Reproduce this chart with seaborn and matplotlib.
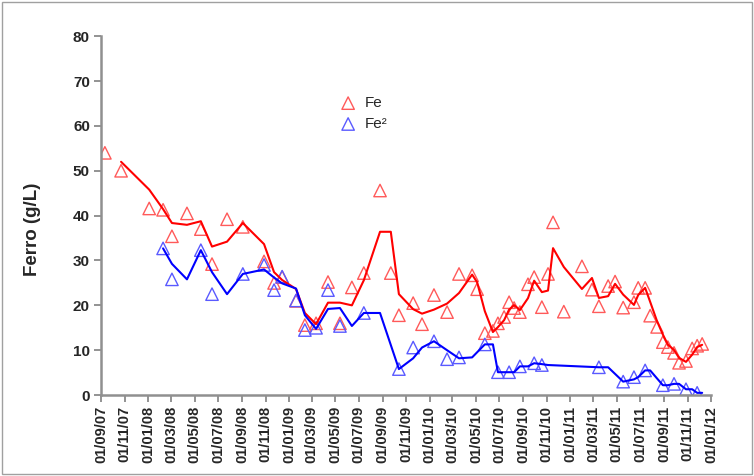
import numpy as np
import pandas as pd
import matplotlib
matplotlib.use("Agg")
import matplotlib.pyplot as plt
import matplotlib.dates as mdates
from matplotlib.patches import Rectangle
import seaborn as sns

# datas das coletas
datas = ['2007-09-11', '2007-10-23', '2008-01-04', '2008-02-09', '2008-03-03', '2008-04-11',
         '2008-05-17', '2008-06-15', '2008-07-24', '2008-09-03', '2008-10-28', '2008-11-23',
         '2008-12-14', '2009-01-19', '2009-02-11', '2009-03-12', '2009-04-12', '2009-05-13',
         '2009-06-13', '2009-07-14', '2009-08-25', '2009-09-22', '2009-10-13', '2009-11-19',
         '2009-12-12', '2010-01-12', '2010-02-15', '2010-03-18', '2010-04-21', '2010-05-04',
         '2010-05-24', '2010-06-14', '2010-06-27', '2010-07-13', '2010-07-26', '2010-08-08',
         '2010-08-23', '2010-09-13', '2010-09-29', '2010-10-19', '2010-11-04', '2010-11-17',
         '2010-12-15', '2011-01-31', '2011-02-26', '2011-03-16', '2011-04-09', '2011-04-27',
         '2011-05-18', '2011-06-15', '2011-06-26', '2011-07-14', '2011-07-27', '2011-08-14',
         '2011-08-29', '2011-09-11', '2011-09-27', '2011-10-10', '2011-10-28', '2011-11-13',
         '2011-11-26', '2011-12-09']

# ferro total (g/L)
fe = [54, 50, 41.6, 41.3, 35.4, 40.5, 37, 29.2, 39.2, 37.5, 29.8, 25,
      26.3, 21, 15.6, 16, 25.2, 16, 24, 27.2, 45.6, 27.2, 17.8, 20.5,
      15.8, 22.3, 18.5, 27, 26.7, 23.6, 13.8, 14.3, 16, 17.4, 20.7, 19.4,
      18.5, 24.7, 26.3, 19.6, 27, 38.5, 18.6, 28.7, 23.5, 19.8, 24.3, 25.3,
      19.5, 20.7, 23.9, 23.9, 17.7, 15.2, 11.8, 10.7, 9.4, 7.2, 7.6, 10.4,
      11, 11.4]

# ferro II (g/L), nan = nao medido
nan = np.nan
fe2 = [nan, nan, nan, 32.7, 25.8, nan, 32.3, 22.5, nan, 27, 29, 23.4,
       26.4, 21.1, 14.5, 15, 23.4, 15.4, nan, 18.3, nan, nan, 5.8, 10.6,
       nan, 12, 8, 8.4, nan, nan, 11.3, nan, 5.1, nan, 5.1, nan,
       6.4, nan, 7.1, 6.7, nan, nan, nan, nan, nan, 6.2, nan, nan,
       3.0, 4, nan, 5.5, nan, nan, 2.2, nan, 2.5, nan, 1.3, nan,
       0.5, nan]

df = pd.DataFrame({'data': pd.to_datetime(datas), 'Fe': fe, 'Fe2': fe2})

# media movel de 2 periodos (linha de tendencia do Excel)
mm = df[['Fe', 'Fe2']].rolling(2, min_periods=1).mean()
mm.iloc[0] = np.nan
mm['data'] = df['data']

sns.set_style('white')
plt.rcParams['font.family'] = ['Liberation Sans', 'DejaVu Sans']

fig = plt.figure(figsize=(7.54, 4.76), dpi=100)
ax = fig.add_axes([0.134, 0.170, 0.809, 0.754])

linha_fe = mm.dropna(subset=['Fe'])
linha_fe2 = mm.dropna(subset=['Fe2'])
sns.lineplot(data=linha_fe, x='data', y='Fe', color='#ff0000', lw=1.5,
             estimator=None, ax=ax, legend=False)
sns.lineplot(data=linha_fe2, x='data', y='Fe2', color='#0000ff', lw=1.5,
             estimator=None, ax=ax, legend=False)

sns.scatterplot(data=df, x='data', y='Fe', marker='^', s=80, facecolor='none',
                edgecolor='#ff5a5a', linewidth=1.0, label='Fe', ax=ax)
sns.scatterplot(data=df.dropna(subset=['Fe2']), x='data', y='Fe2', marker='^', s=80,
                facecolor='none', edgecolor='#5a5aff', linewidth=1.0, label='Fe²', ax=ax)

ax.set_xlim(pd.Timestamp('2007-09-01'), pd.Timestamp('2012-01-01'))
ax.set_ylim(0, 80)
ax.set_yticks(range(0, 81, 10))
ax.xaxis.set_major_locator(mdates.MonthLocator(bymonth=[1, 3, 5, 7, 9, 11]))
ax.xaxis.set_major_formatter(mdates.DateFormatter('%d/%m/%y'))

for lab in ax.get_xticklabels():
    lab.set_rotation(90)
    lab.set_fontweight('bold')
    lab.set_fontsize(10.5)
for lab in ax.get_yticklabels():
    lab.set_fontweight('bold')
    lab.set_fontsize(11)

ax.tick_params(axis='both', direction='out', length=5, width=1.2, color='#808080',
               left=True, bottom=True)
ax.tick_params(axis='x', pad=3)
ax.tick_params(axis='y', pad=3)

for s in ['top', 'right']:
    ax.spines[s].set_visible(False)
for s in ['left', 'bottom']:
    ax.spines[s].set_color('#909090')
    ax.spines[s].set_linewidth(1.8)

ax.set_xlabel('')
ax.set_ylabel('Ferro (g/L)', fontsize=13.5, fontweight='bold')
ax.yaxis.set_label_coords(-0.099, 0.462)

leg = ax.legend(loc='upper left', bbox_to_anchor=(0.37, 0.85), frameon=False,
                handletextpad=0.1, labelspacing=0.45, fontsize=11, borderaxespad=0)

fig.patches.append(Rectangle((0.002, 0.004), 0.995, 0.992, transform=fig.transFigure,
                             fill=False, edgecolor='#a0a0a0', linewidth=1.0))

fig.savefig('out.png', dpi=100)
